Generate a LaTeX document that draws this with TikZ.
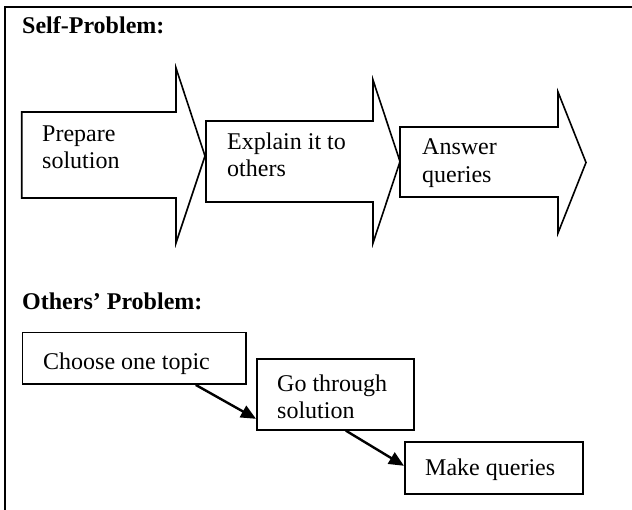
\documentclass[tikz,border=0pt]{standalone}
\usepackage{fontspec}
\setmainfont{Liberation Serif}
\usetikzlibrary{arrows.meta}
\tikzset{
  frameline/.style={line width=2.4pt, line cap=rect},
  bigarrow/.style={draw, line width=1.6pt, line join=miter, fill=white},
  box/.style={draw, line width=1.6pt, fill=white, inner sep=0pt, anchor=north west},
  txt/.style={inner sep=0pt, anchor=base west, font=\fontsize{24}{27.6}\selectfont},
  head/.style={inner sep=0pt, anchor=base west, font=\fontsize{24}{27.6}\selectfont\bfseries},
  conn/.style={line width=2.4pt, -{Triangle[length=15pt,width=13pt]}}
}
\begin{document}
\begin{tikzpicture}[x=1pt,y=-1pt]
\useasboundingbox (0,0) rectangle (632,509);
% frame
\draw[frameline] (5,515) -- (5,7) -- (640,7);
% headings
\node[head] (h1) at (22,33) {Self-Problem:};
\node[head] (h2) at (22,309) {Others’ Problem:};
% block arrows
\draw[bigarrow] (21.7,112) -- (176,112) -- (176,68) -- (205,156) -- (176,243) -- (176,198) -- (21.7,198) -- cycle;
\draw[bigarrow] (206,121) -- (373,121) -- (373,80) -- (400,161.5) -- (373,243) -- (373,202) -- (206,202) -- cycle;
\draw[bigarrow] (400,127) -- (558,127) -- (558,92) -- (586,162.5) -- (558,233) -- (558,197) -- (400,197) -- cycle;
\node[txt] (a1a) at (42,141.5) {Prepare};
\node[txt] (a1b) at (42,168) {solution};
\node[txt] (a2a) at (227,149) {Explain it to};
\node[txt] (a2b) at (227,176) {others};
\node[txt] (a3a) at (422,154) {Answer};
\node[txt] (a3b) at (422,182) {queries};
% boxes
\node[box, minimum width=223.3pt, minimum height=51.6pt] (b1) at (21.7,331.7) {};
\node[box, minimum width=157pt, minimum height=71pt] (b2) at (256,358) {};
\node[box, minimum width=178pt, minimum height=52pt] (b3) at (404,441) {};
\node[txt] (t1) at (43,369) {Choose one topic};
\node[txt] (t2a) at (277,391) {Go through};
\node[txt] (t2b) at (277,418) {solution};
\node[txt] (t3) at (425,475) {Make queries};
% connectors
\draw[conn] ([xshift=61.6pt]b1.south) -- ([yshift=-24.5pt]b2.west);
\draw[conn] ([xshift=10.5pt]b2.south) -- ([yshift=2pt]b3.west);
\end{tikzpicture}
\end{document}
